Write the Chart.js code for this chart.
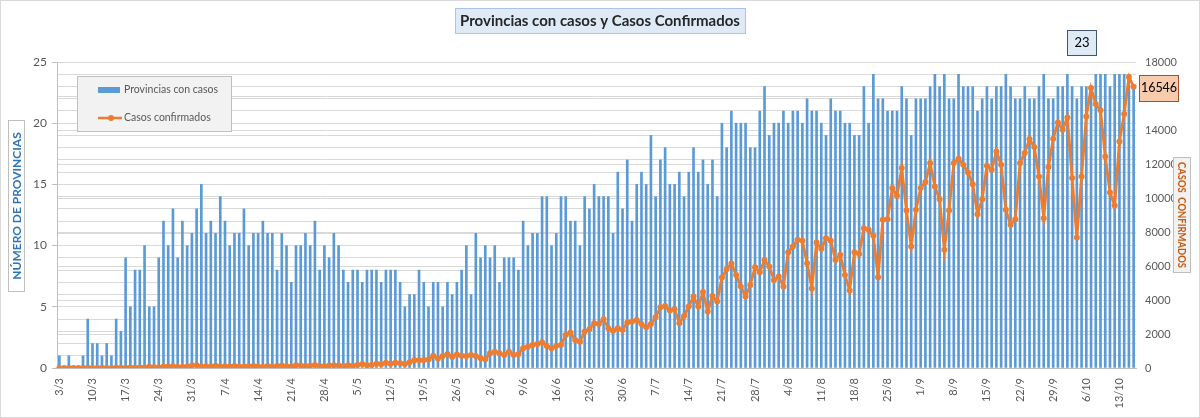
<!DOCTYPE html>
<html>
<head>
<meta charset="utf-8">
<script src="https://cdn.jsdelivr.net/npm/chart.js@4.4.0/dist/chart.umd.min.js"></script>
<style>
  html, body { margin: 0; padding: 0; background: #fff; }
  #wrap { width: 1200px; height: 418px; }
</style>
</head>
<body>
<div id="wrap"><canvas id="chart" width="1200" height="418"></canvas></div>
<script>
// Days shown: 3/3 to 16/10, one category per day
const meses = [[3, 3, 31], [4, 1, 30], [5, 1, 31], [6, 1, 30], [7, 1, 31], [8, 1, 31], [9, 1, 30], [10, 1, 16]];
const dias = [];
meses.forEach(([m, d0, d1]) => {
    for (let d = d0; d <= d1; d++) dias.push(d + '/' + m);
});

const etiquetasX = ['3/3', '10/3', '17/3', '24/3', '31/3', '7/4', '14/4', '21/4', '28/4', '5/5', '12/5',
    '19/5', '26/5', '2/6', '9/6', '16/6', '23/6', '30/6', '7/7', '14/7', '21/7', '28/7', '4/8', '11/8',
    '18/8', '25/8', '1/9', '8/9', '15/9', '22/9', '29/9', '6/10', '13/10'];

// Provincias con casos (left axis)
const provincias = [
    1, 0, 1, 0, 0, 1, 4, 2, 2, 1, 2, 1, 4, 3, 9, 5, 8, 8, 10, 5, 5, 9, 12, 10, 13, 9, 12, 10, 11,
    13, 15, 11, 12, 11, 14, 12, 10, 11, 11, 13, 10, 11, 11, 12, 11, 11, 8, 11, 10, 7, 10, 10, 11, 10, 12, 8, 10, 9,
    11, 10, 8, 7, 8, 8, 7, 8, 8, 8, 7, 8, 8, 8, 7, 5, 6, 6, 8, 7, 5, 7, 7, 5, 7, 6, 7, 8,
    10, 6, 11, 9, 10, 9, 10, 7, 9, 9, 9, 8, 12, 10, 11, 11, 14, 14, 10, 11, 14, 14, 12, 12, 10, 14, 13, 15, 14,
    14, 14, 11, 16, 13, 17, 12, 15, 16, 15, 19, 14, 17, 18, 15, 15, 16, 14, 16, 18, 16, 17, 15, 17, 14, 20, 18, 21,
    20, 20, 20, 18, 18, 21, 23, 19, 20, 20, 21, 20, 21, 21, 20, 22, 21, 21, 20, 19, 22, 21, 21, 20, 20, 19, 19, 23, 20,
    24, 22, 22, 21, 21, 21, 23, 22, 19, 22, 22, 22, 23, 24, 23, 24, 22, 22, 24, 23, 23, 23, 21, 22, 23, 22, 23,
    23, 24, 23, 22, 22, 23, 22, 22, 23, 24, 22, 22, 23, 23, 24, 23, 22, 23, 23, 23, 24, 24, 24, 23, 24, 24, 24, 24, 23
];

// Casos confirmados (right axis)
const casos = [
    1, 0, 1, 0, 0, 1, 8, 3, 2, 12, 3, 3, 11, 11, 14, 31, 18, 30, 30, 67, 41, 35, 86, 87, 101, 55, 75, 70,
    146, 167, 88, 103, 90, 133, 89, 98, 86, 112, 87, 90, 106, 115, 81, 58, 111, 86, 112, 144,
    98, 86, 161, 153, 111, 134, 173, 111, 99, 145, 158,
    143, 111, 165, 135, 179, 240, 163, 178, 245, 222, 315, 256, 316, 285, 239, 342, 474, 458, 471, 504,
    718, 564, 703, 820, 648, 793,
    720, 707, 766, 707, 569, 510, 864, 962, 864, 766, 962, 766, 824, 1158, 1256, 1354, 1413, 1511, 1296, 1158,
    1315, 1354, 1943, 2081, 1649, 1551, 2140, 2277, 2630, 2591,
    2866, 2336, 2179, 2336, 2238, 2670, 2729, 2827, 2591, 2395, 2591, 2984, 3573, 3651, 3376, 3455, 2630, 3062,
    3612, 4200, 3612, 4476, 3317, 4240, 3906, 5320, 5810, 6140,
    5477, 4790, 4201, 4888, 5928, 5634, 6360, 5968, 5182, 5379, 4790, 6812, 7145, 7538, 7479, 6164, 4672, 7381,
    7008, 7636, 7479, 6360, 6655, 5477, 4554, 6812, 6713, 8225, 8127,
    7773, 5339, 8716, 8755, 10581, 10129, 11758, 9265, 7145, 9305, 10581, 10934, 12053, 10679, 9933, 6949, 9265,
    12053, 12308, 11955, 11503, 10816, 9049, 9933, 11896, 11660, 12740,
    11955, 9305, 8421, 8755, 12053, 12642, 13466, 12995, 11268, 8814, 11817, 13486, 14448, 14016, 14742, 11170,
    7675, 11268, 14801, 16470, 15528, 15155, 12445, 10325, 9560, 13329, 14938, 17117, 16546
];

const azul = '#5b9bd5';
const naranja = '#ed7d31';
const gris = '#595959';

Chart.defaults.font.family = 'Lato, "Open Sans", sans-serif';
Chart.defaults.font.size = 11;
Chart.defaults.color = gris;

function caja(ctx, x, y, w, h, fill, stroke) {
    ctx.fillStyle = fill;
    ctx.fillRect(x, y, w, h);
    ctx.strokeStyle = stroke;
    ctx.lineWidth = 1;
    ctx.strokeRect(x + 0.5, y + 0.5, w - 1, h - 1);
}

// draw text rotated, shrunk so it fits a given length
function textoVertical(ctx, texto, cx, cy, ang, largo, color, size) {
    ctx.save();
    ctx.translate(cx, cy);
    ctx.rotate(ang);
    ctx.font = 'bold ' + size + 'px Lato, sans-serif';
    const w = ctx.measureText(texto).width;
    if (w > largo) ctx.scale(largo / w, 1);
    ctx.fillStyle = color;
    ctx.textAlign = 'center';
    ctx.textBaseline = 'middle';
    ctx.fillText(texto, 0, 0);
    ctx.restore();
}

// title, axis titles, legend and value labels drawn on top
const adornos = {
    id: 'adornos',
    afterDraw(chart) {
        const ctx = chart.ctx;
        ctx.save();

        ctx.strokeStyle = '#d9d9d9';
        ctx.strokeRect(0.5, 0.5, chart.width - 1, chart.height - 1);

        // title
        caja(ctx, 455, 8, 291, 26, '#deebf7', '#a9c4e4');
        ctx.fillStyle = '#262626';
        ctx.font = 'bold 15px Lato, sans-serif';
        ctx.textAlign = 'center';
        ctx.textBaseline = 'middle';
        ctx.fillText('Provincias con casos y Casos Confirmados', 600, 21);

        // axis titles
        caja(ctx, 8, 120, 17, 172, '#ffffff', '#bfbfbf');
        textoVertical(ctx, 'N\u00daMERO DE PROVINCIAS', 17, 206, -Math.PI / 2, 162, '#2e75b6', 12);
        caja(ctx, 1173, 157, 18, 116, '#f2f2f2', '#bfbfbf');
        textoVertical(ctx, 'CASOS  CONFIRMADOS', 1182, 215, Math.PI / 2, 106, '#c55a11', 11.5);

        // legend
        caja(ctx, 77, 76, 155, 56, '#f2f2f2', '#bfbfbf');
        ctx.fillStyle = azul;
        ctx.fillRect(98, 87, 22, 6);
        ctx.strokeStyle = naranja;
        ctx.lineWidth = 2.5;
        ctx.beginPath();
        ctx.moveTo(98, 118);
        ctx.lineTo(122, 118);
        ctx.stroke();
        ctx.fillStyle = naranja;
        ctx.beginPath();
        ctx.arc(111, 118, 3, 0, Math.PI * 2);
        ctx.fill();
        ctx.fillStyle = gris;
        ctx.font = '10.5px Lato, sans-serif';
        ctx.textAlign = 'left';
        ctx.textBaseline = 'middle';
        ctx.fillText(chart.data.datasets[0].label, 124, 90);
        ctx.fillText(chart.data.datasets[1].label, 124, 118);

        // last value labels
        const n = dias.length - 1;
        caja(ctx, 1067, 30, 30, 26, '#deebf7', '#44546a');
        ctx.fillStyle = '#000';
        ctx.font = '13px Lato, sans-serif';
        ctx.textAlign = 'center';
        ctx.fillText(String(provincias[n]), 1082, 43);

        caja(ctx, 1139, 75, 40, 27, '#f8cbad', '#a0522d');
        ctx.fillStyle = '#000';
        ctx.font = '12.5px Lato, sans-serif';
        ctx.fillText(String(casos[n]), 1159, 88);

        ctx.restore();
    }
};

new Chart(document.getElementById('chart'), {
    type: 'bar',
    data: {
        labels: dias,
        datasets: [{
            label: 'Provincias con casos',
            data: provincias,
            backgroundColor: azul,
            barThickness: 2,
            yAxisID: 'y',
            order: 2
        }, {
            type: 'line',
            label: 'Casos confirmados',
            data: casos,
            borderColor: naranja,
            backgroundColor: naranja,
            borderWidth: 2.8,
            pointRadius: 3,
            pointBorderWidth: 0,
            pointBackgroundColor: naranja,
            tension: 0,
            yAxisID: 'y1',
            order: 1
        }]
    },
    options: {
        responsive: false,
        animation: false,
        layout: { padding: { top: 62, left: 0, right: 0, bottom: 0 } },
        plugins: {
            legend: { display: false },
            title: { display: false },
            tooltip: { enabled: false }
        },
        scales: {
            x: {
                ticks: {
                    autoSkip: false,
                    minRotation: 90,
                    maxRotation: 90,
                    padding: 2,
                    callback: function(v, i) {
                        return etiquetasX.includes(dias[i]) ? dias[i] : '';
                    }
                },
                grid: { display: false },
                border: { display: true, color: '#bfbfbf' },
                afterFit: s => { s.height = 50; }
            },
            y: {
                position: 'left',
                min: 0,
                max: 25,
                ticks: {
                    stepSize: 1,
                    autoSkip: false,
                    padding: 5,
                    font: { size: 12 },
                    callback: v => (v % 5 === 0 ? v : '')
                },
                grid: {
                    color: '#d9d9d9',
                    tickLength: 5,
                    tickColor: c => (c.tick && c.tick.value % 5 === 0 ? '#bfbfbf' : 'rgba(0,0,0,0)')
                },
                border: { display: true, color: '#bfbfbf' },
                afterFit: s => { s.width = 57; }
            },
            y1: {
                position: 'right',
                min: 0,
                max: 18000,
                ticks: { stepSize: 2000, padding: 9, callback: v => String(v) },
                grid: { color: '#d9d9d9', drawTicks: false },
                border: { display: false },
                afterFit: s => { s.width = 64; }
            }
        }
    },
    plugins: [adornos]
});
</script>
</body>
</html>
